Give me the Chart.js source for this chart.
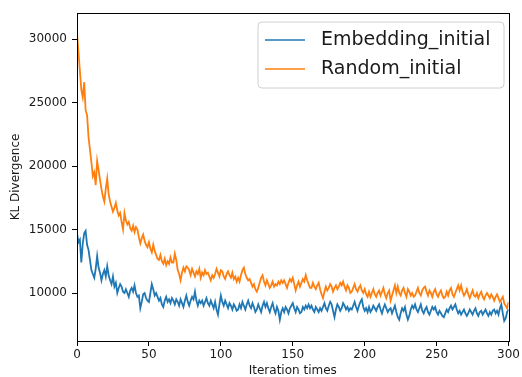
<!DOCTYPE html>
<html>
<head>
<meta charset="utf-8">
<script src="https://cdn.jsdelivr.net/npm/chart.js@4/dist/chart.umd.min.js"></script>
<style>
html,body{margin:0;padding:0;background:#fff;}
#wrap{position:relative;width:522px;height:377px;}
</style>
</head>
<body>
<div id="wrap"><canvas id="c" width="522" height="377"></canvas></div>
<script>
const seriesNames = ["Embedding_initial", "Random_initial"];
const xTicks = [0, 50, 100, 150, 200, 250, 300];
const yTicks = [10000, 15000, 20000, 25000, 30000];

const embeddingInitial = [
14700,14000,14200,12400,13900,14700,14900,13800,13400,12600,
11800,11500,11200,11900,12900,12000,11600,11000,11500,11800,
11300,12100,11400,11000,10700,11300,10500,10800,10000,10400,
10700,10500,10100,10000,10300,10000,9700,10200,10400,10100,
10600,10000,9700,9800,8800,9300,9900,10000,9600,9400,
9300,10000,10700,10300,9800,10000,9700,9400,9600,9100,
8900,9400,9700,9300,9500,9200,9600,9400,9100,9500,
9300,9000,9500,9200,8900,9400,9800,9300,9000,9400,
9700,9500,10100,9400,9000,9400,9200,9400,9000,9300,
9600,9200,9000,9400,9100,8800,9300,8700,8300,9100,
9800,9300,9000,9400,9100,8800,9200,9000,8700,9100,
8900,8600,8700,9100,8800,9300,9000,8700,9100,9400,
9000,8800,9200,8900,8500,8700,9100,8800,8500,9000,
9300,8900,9200,8800,8500,8900,9200,8700,8400,8900,
8600,7900,8500,8800,8500,8900,8700,8400,8800,9000,
9200,8800,8500,8900,8700,8400,8500,8900,8700,9000,
8800,9100,8800,9000,8700,8500,8900,8700,8500,8800,
8600,8900,9200,8800,8600,9000,9300,9100,8600,8100,
8700,9100,8900,8600,8800,9200,9000,8700,8900,8600,
8800,8700,9000,9300,8900,8600,9000,9300,9500,8900,
8600,8800,8500,8900,8500,8700,9000,8800,8600,8900,
9100,8700,8400,8800,9100,8800,8500,8700,8800,8400,
8700,9000,8500,8100,7900,8400,8800,8600,8900,8300,
7900,8200,8700,9000,8800,9100,8700,8500,8800,9100,
8600,8400,8700,8900,8500,8300,8600,8900,8700,8900,
8500,8300,8600,8400,8200,8100,8400,8700,8500,8800,
9000,8700,8900,9100,8700,8400,8600,8300,8500,8700,
8400,8200,8400,8700,8500,8300,8600,8800,8400,8200,
8500,8600,8300,8500,8700,8400,8200,8500,8300,8600,
8700,8400,8600,8300,8800,9100,8400,7800,8000,8500,
8700
];

const randomInitial = [
30500,29000,27500,26000,25400,26600,24400,24000,22300,21300,
20300,19200,19500,18500,20400,19700,18900,18200,17600,17200,
18200,19000,17800,17200,16800,16400,16700,17100,16500,16100,
16300,15600,15000,16300,15700,15400,15600,15100,14900,15300,
14800,15200,15000,14400,13900,14300,14600,14100,13800,13600,
14000,13500,13200,13800,13300,13000,12700,12600,13000,12500,
12300,12700,12200,12500,12300,12800,12400,12400,13100,12600,
11800,11500,11000,11600,12000,11700,12100,12000,11800,11400,
11900,11600,11300,11700,11500,11900,11200,11600,11400,11800,
11500,11600,11300,11000,11400,11200,11500,11900,11600,11300,
11800,11700,11300,11100,11500,11700,11400,11200,11600,11100,
11300,10900,11200,10900,11400,11800,12000,11500,11200,11000,
11100,10800,10500,10700,10300,10100,10400,10800,11200,11400,
10900,10600,11000,10700,10400,10600,10900,10500,10700,10600,
10900,10700,11000,10800,11000,10700,10400,10800,11100,10900,
11200,10700,10200,10600,10900,10500,10800,11100,10900,11400,
11000,10700,10400,10400,10800,10500,10300,10600,10800,10300,
9900,9600,10100,10500,10200,10400,10700,10500,10100,10400,
10600,10300,10500,10800,10600,10900,10500,10200,10600,10400,
10000,10100,10400,10700,10300,10100,10400,10600,10200,10000,
10300,9900,9700,10100,9700,10000,10300,9900,9700,10000,
10200,9800,10100,10400,9900,9600,10000,10200,9400,9800,
10200,10600,10000,10500,10000,9800,10200,10400,10000,9700,
10300,10100,9800,10000,9700,9800,10100,10400,10000,9800,
10200,10400,10500,10100,9800,10200,10000,9700,10100,10300,
9900,9700,10000,10200,9800,9600,9700,10100,9800,10200,
10400,9900,9700,10000,10300,10600,10200,10600,10100,9800,
10000,10300,9900,9600,9900,10200,9800,9700,10000,9600,
9900,10100,9700,9500,9800,10000,9800,9600,9900,9700,
9400,9700,9900,9600,9300,9500,9700,9200,9000,8800,
9300
];

const iterations = embeddingInitial.map((_, i) => i);

const textColor = '#1a1a1a';
const fontFamily = '"DejaVu Sans", sans-serif';

const framePlugin = {
  id: 'frame',
  afterDraw(chart) {
    const {ctx, chartArea: a} = chart;
    ctx.save();
    ctx.strokeStyle = '#000';
    ctx.lineWidth = 1;
    ctx.strokeRect(Math.round(a.left) + 0.5, Math.round(a.top) + 0.5,
                   Math.round(a.right - a.left), Math.round(a.bottom - a.top));
    // legend
    const bx = 258, by = 22, bw = 246, bh = 66, r = 4;
    ctx.fillStyle = 'rgba(255,255,255,0.8)';
    ctx.strokeStyle = '#d0d0d0';
    ctx.beginPath();
    ctx.moveTo(bx + r, by);
    ctx.arcTo(bx + bw, by, bx + bw, by + bh, r);
    ctx.arcTo(bx + bw, by + bh, bx, by + bh, r);
    ctx.arcTo(bx, by + bh, bx, by, r);
    ctx.arcTo(bx, by, bx + bw, by, r);
    ctx.closePath();
    ctx.fill();
    ctx.stroke();
    const rows = [40, 69];
    chart.data.datasets.forEach((ds, i) => {
      const y = rows[i];
      ctx.strokeStyle = ds.borderColor;
      ctx.lineWidth = 1.5;
      ctx.beginPath();
      ctx.moveTo(265, y);
      ctx.lineTo(305, y);
      ctx.stroke();
      ctx.fillStyle = textColor;
      ctx.font = '19px ' + fontFamily;
      ctx.textBaseline = 'middle';
      ctx.textAlign = 'left';
      ctx.fillText(ds.label, 321, y);
    });
    ctx.restore();
  }
};

new Chart(document.getElementById('c'), {
  type: 'line',
  data: {
    datasets: [
      {
        label: seriesNames[0],
        data: embeddingInitial.map((v, i) => ({x: iterations[i], y: v})),
        borderColor: '#1f77b4',
        backgroundColor: '#1f77b4',
        borderWidth: 1.8,
        pointRadius: 0,
        tension: 0,
        order: 1
      },
      {
        label: seriesNames[1],
        data: randomInitial.map((v, i) => ({x: iterations[i], y: v})),
        borderColor: '#ff7f0e',
        backgroundColor: '#ff7f0e',
        borderWidth: 1.8,
        pointRadius: 0,
        tension: 0,
        order: 0
      }
    ]
  },
  options: {
    responsive: false,
    animation: false,
    devicePixelRatio: 1,
    layout: {padding: {left: 0, top: 13, right: 8, bottom: 0}},
    plugins: {
      legend: {display: false},
      tooltip: {enabled: false}
    },
    scales: {
      x: {
        type: 'linear',
        min: 0, max: 300,
        afterBuildTicks: s => { s.ticks = xTicks.map(v => ({value: v})); },
        afterFit: s => { s.height = 36; },
        grid: {display: true, drawOnChartArea: false, drawTicks: true, tickLength: 5, tickColor: '#000'},
        border: {display: true, color: '#000', width: 1},
        ticks: {color: textColor, font: {family: fontFamily, size: 12}, padding: 2, maxRotation: 0,
                callback: v => String(v)},
        title: {display: true, text: 'Iteration times', color: textColor,
                font: {family: fontFamily, size: 12}, padding: {top: 0, bottom: -1}}
      },
      y: {
        type: 'linear',
        min: 6220, max: 32050,
        afterBuildTicks: s => { s.ticks = yTicks.map(v => ({value: v})); },
        afterFit: s => { s.width = 77; },
        grid: {display: true, drawOnChartArea: false, drawTicks: true, tickLength: 5, tickColor: '#000'},
        border: {display: true, color: '#000', width: 1},
        ticks: {color: textColor, font: {family: fontFamily, size: 12}, padding: 5,
                callback: v => String(v)},
        title: {display: true, text: 'KL Divergence', color: textColor,
                font: {family: fontFamily, size: 12}, padding: {top: 9, bottom: 0}}
      }
    }
  },
  plugins: [framePlugin]
});
</script>
</body>
</html>
